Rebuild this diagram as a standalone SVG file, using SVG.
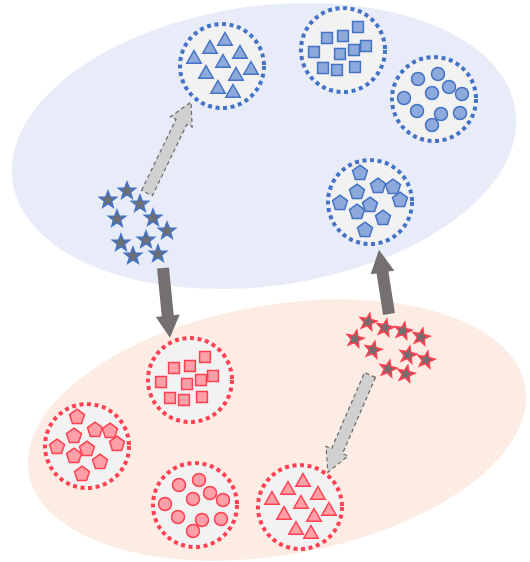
<svg xmlns="http://www.w3.org/2000/svg" xmlns:xlink="http://www.w3.org/1999/xlink" width="530" height="562" viewBox="0 0 530 562">
<style>
.bg{fill:#ffffff}
.blob-b{fill:#e8ecf8}
.blob-r{fill:#fcece3}
.ring{fill:#f2f2f2;stroke-width:4;stroke-dasharray:4 3.6}
.ring-b{stroke:#4472c4}
.ring-r{stroke:#ff4050}
.b{fill:#8eaadc;stroke:#4472c4;stroke-width:1.5}
.r{fill:#ff9fa8;stroke:#ff4050;stroke-width:1.5}
.sb{fill:#6f6f6f;stroke:#4472c4;stroke-width:1.6}
.sr{fill:#6f6f6f;stroke:#ff4050;stroke-width:1.6}
.arr-light{fill:#d0d0d0;stroke:#6a6a6a;stroke-width:1.2;stroke-dasharray:4 3}
.arr-dark{fill:#747070}
</style>
<defs>
<path id="tri" d="M0,-7.5 L7.2,5.2 L-7.2,5.2 Z"/>
<path id="sq" d="M-5.4,-5.4 H5.4 V5.4 H-5.4 Z"/>
<circle id="ci" r="6.5"/>
<path id="pe" d="M0,-7.9 L7.5,-2.4 L4.6,6.4 L-4.6,6.4 L-7.5,-2.4 Z"/>
<path id="st" d="M0,-8.8 L2.2,-3 L8.4,-2.7 L3.5,1.1 L5.2,7.1 L0,3.7 L-5.2,7.1 L-3.5,1.1 L-8.4,-2.7 L-2.2,-3 Z"/>
<g id="triset">
<use href="#tri" x="3" y="-26"/><use href="#tri" x="-12" y="-18"/><use href="#tri" x="-28" y="-8"/>
<use href="#tri" x="18" y="-13"/><use href="#tri" x="1" y="-4"/><use href="#tri" x="29" y="3"/>
<use href="#tri" x="-16" y="7"/><use href="#tri" x="14" y="9"/><use href="#tri" x="-4" y="22"/><use href="#tri" x="11" y="26"/>
</g>
<g id="sqset">
<use href="#sq" x="15" y="-23"/><use href="#sq" x="-16" y="-12"/><use href="#sq" x="0" y="-14"/>
<use href="#sq" x="-29" y="2"/><use href="#sq" x="-3" y="4"/><use href="#sq" x="11" y="0"/>
<use href="#sq" x="23" y="-4"/><use href="#sq" x="-20" y="18"/><use href="#sq" x="-6" y="20"/><use href="#sq" x="12" y="17"/>
</g>
<g id="ciset">
<use href="#ci" x="4" y="-25"/><use href="#ci" x="-16" y="-20"/><use href="#ci" x="15" y="-12"/>
<use href="#ci" x="-2" y="-6"/><use href="#ci" x="28" y="-5"/><use href="#ci" x="-30" y="-1"/>
<use href="#ci" x="-17" y="12"/><use href="#ci" x="7" y="15"/><use href="#ci" x="26" y="14"/><use href="#ci" x="-2" y="26"/>
</g>
<g id="peset">
<use href="#pe" x="-10" y="-29"/><use href="#pe" x="8" y="-16"/><use href="#pe" x="23" y="-15"/>
<use href="#pe" x="-13" y="-10"/><use href="#pe" x="30" y="-2"/><use href="#pe" x="-30" y="1"/>
<use href="#pe" x="0" y="3"/><use href="#pe" x="-13" y="10"/><use href="#pe" x="13" y="16"/><use href="#pe" x="-5" y="28"/>
</g>
</defs>
<rect class="bg" x="0" y="0" width="530" height="562"/>
<g id="region-top"><ellipse class="blob-b" cx="264" cy="146" rx="254" ry="140" transform="rotate(-8 264 146)"/></g>
<g id="region-bottom"><ellipse class="blob-r" cx="277" cy="430" rx="252" ry="125" transform="rotate(-10 277 430)"/></g>

<g id="blue-triangles">
<circle class="ring ring-b" cx="222" cy="66" r="42"/>
<use href="#triset" class="b" transform="translate(222 66)"/>
</g>
<g id="blue-squares">
<circle class="ring ring-b" cx="343" cy="50" r="42"/>
<use href="#sqset" class="b" transform="translate(343 50)"/>
</g>
<g id="blue-circles">
<circle class="ring ring-b" cx="434" cy="99" r="42"/>
<use href="#ciset" class="b" transform="translate(434 99)"/>
</g>
<g id="blue-pentagons">
<circle class="ring ring-b" cx="370" cy="202" r="42"/>
<use href="#peset" class="b" transform="translate(370 202)"/>
</g>
<g id="blue-stars" class="sb">
<use href="#st" x="127" y="191"/><use href="#st" x="108" y="200"/><use href="#st" x="140" y="204"/>
<use href="#st" x="117" y="219"/><use href="#st" x="153" y="218"/><use href="#st" x="167" y="231"/>
<use href="#st" x="121" y="243"/><use href="#st" x="146" y="240"/><use href="#st" x="133" y="256"/><use href="#st" x="158" y="254"/>
</g>

<g id="red-squares">
<circle class="ring ring-r" cx="190" cy="380" r="42"/>
<use href="#sqset" class="r" transform="translate(190 380)"/>
</g>
<g id="red-pentagons">
<circle class="ring ring-r" cx="87" cy="446" r="42"/>
<use href="#peset" class="r" transform="translate(87 446)"/>
</g>
<g id="red-circles">
<circle class="ring ring-r" cx="195" cy="505" r="42"/>
<use href="#ciset" class="r" transform="translate(195 505)"/>
</g>
<g id="red-triangles">
<circle class="ring ring-r" cx="300" cy="507" r="42"/>
<use href="#triset" class="r" transform="translate(300 507)"/>
</g>
<g id="red-stars" class="sr">
<use href="#st" transform="translate(368 322) rotate(12)"/><use href="#st" transform="translate(385 328) rotate(12)"/>
<use href="#st" transform="translate(403 331) rotate(12)"/><use href="#st" transform="translate(421 337) rotate(12)"/>
<use href="#st" transform="translate(355 339) rotate(12)"/><use href="#st" transform="translate(373 350) rotate(12)"/>
<use href="#st" transform="translate(408 355) rotate(12)"/><use href="#st" transform="translate(426 360) rotate(12)"/>
<use href="#st" transform="translate(388 369) rotate(12)"/><use href="#st" transform="translate(406 374) rotate(12)"/>
</g>

<g id="connectors">
<path class="arr-light" transform="translate(147 193) rotate(-64.2)" d="M0,-6 L79,-6 L79,-12 L101,0 L79,12 L79,6 L0,6 Z"/>
<path class="arr-dark" transform="translate(163 268) rotate(84.3)" d="M0,-6 L48,-6 L48,-12 L70,0 L48,12 L48,6 L0,6 Z"/>
<path class="arr-dark" transform="translate(389 314) rotate(-98.9)" d="M0,-6 L42,-6 L42,-12 L65,0 L42,12 L42,6 L0,6 Z"/>
<path class="arr-light" transform="translate(370 375) rotate(113.4)" d="M0,-6 L83,-6 L83,-12 L106,0 L83,12 L83,6 L0,6 Z"/>
</g>
</svg>
